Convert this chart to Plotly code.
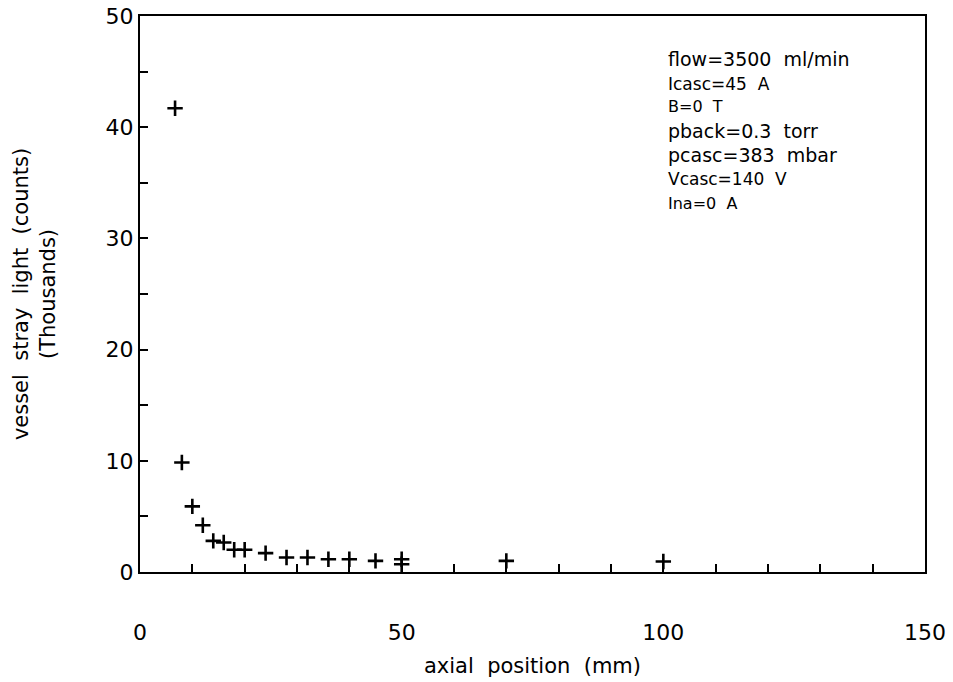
import plotly.graph_objects as go

# axial position (mm)
pos = [6.7, 8, 10, 12, 14, 16, 18, 20, 24, 28, 32, 36, 40, 45, 50, 50, 70, 100]
# vessel stray light (thousands of counts)
light = [41.7, 9.85, 5.9, 4.2, 2.8, 2.65, 2.0, 2.0, 1.7, 1.3, 1.3, 1.15, 1.15, 1.0, 1.15, 0.7, 1.0, 0.95]

info_lines = ["flow=3500  ml/min", "Icasc=45  A", "B=0  T", "pback=0.3  torr",
              "pcasc=383  mbar", "Vcasc=140  V", "Ina=0  A"]
info_sizes = [19, 17, 16, 19, 19, 17, 16]

FONT = "DejaVu Sans"

fig = go.Figure()
fig.add_trace(go.Scatter(
    x=pos, y=light, mode="markers",
    marker=dict(symbol="cross-thin", size=11, line=dict(color="black", width=2.6)),
    showlegend=False,
))

ys = [59, 84, 107, 131, 155, 179, 203]
for txt, sz, yp in zip(info_lines, info_sizes, ys):
    fig.add_annotation(
        text=txt, xref="paper", yref="paper",
        x=(666 - 140) / 785, y=1 - (yp - 16) / 556,
        xanchor="left", yanchor="middle", showarrow=False,
        font=dict(family=FONT, size=sz, color="black"),
    )

axis_common = dict(
    showline=True, linecolor="black", linewidth=2, mirror=True,
    showgrid=False, zeroline=False, automargin=False,
    ticks="inside", ticklen=8, tickwidth=2, tickcolor="black",
    tickfont=dict(family=FONT, size=22, color="black"),
)

fig.update_xaxes(
    range=[0, 150], tick0=0, dtick=50,
    minor=dict(dtick=10, ticks="inside", ticklen=8, tickwidth=2, tickcolor="black", showgrid=False),
    ticklabelstandoff=40,
    title=dict(text="axial  position  (mm)", font=dict(family=FONT, size=21, color="black"), standoff=14),
    **axis_common,
)
fig.update_yaxes(
    range=[0, 50], tick0=0, dtick=10,
    minor=dict(dtick=5, ticks="inside", ticklen=8, tickwidth=2, tickcolor="black", showgrid=False),
    title=dict(text="vessel  stray  light  (counts)<br>(Thousands)",
               font=dict(family=FONT, size=21, color="black"), standoff=44),
    **axis_common,
)

fig.update_layout(
    width=953, height=682,
    margin=dict(l=140, r=28, t=16, b=110),
    plot_bgcolor="white", paper_bgcolor="white",
)

fig.write_html("out.html")
